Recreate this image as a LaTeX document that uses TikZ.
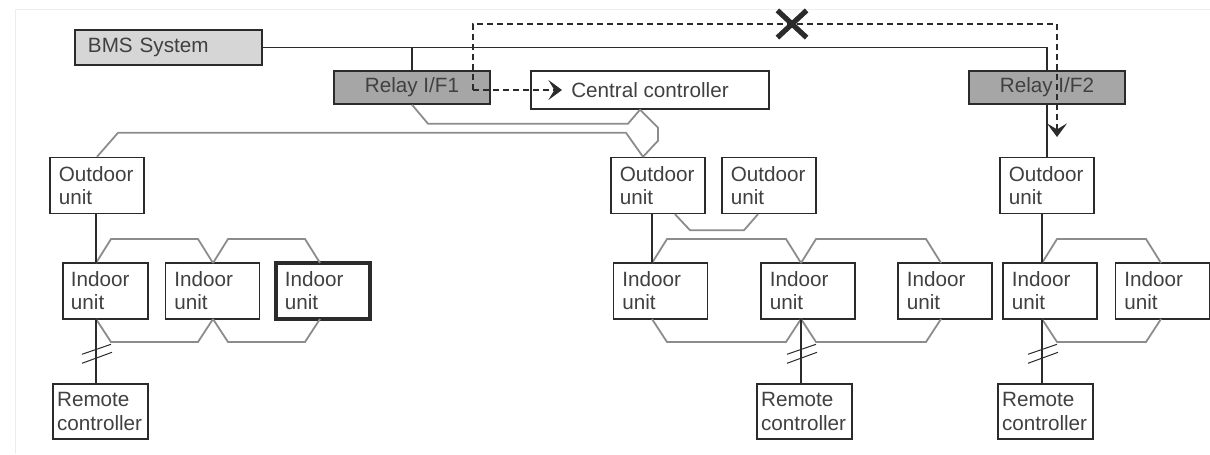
\documentclass[tikz,border=0pt]{standalone}
\usepackage{fontspec}
\setmainfont{Liberation Sans}
\usetikzlibrary{arrows.meta,calc,shapes.misc}
\definecolor{Ink}{HTML}{2B2B2B}
\definecolor{Wire}{HTML}{8C8C8C}
\definecolor{Panel}{HTML}{D6D6D6}
\definecolor{Relay}{HTML}{A6A6A6}
\newcommand\unitfont{\fontsize{14.7}{16.5}\selectfont}

\tikzset{
  box/.style={draw=Ink,line width=0.35mm,text=Ink!90,font=\unitfont},
  unit/.style={box,align=left,text width=1.91cm,inner xsep=0.22cm,minimum height=1.4cm},
  remote/.style={box,align=left,text width=2.17cm,inner xsep=0.1cm,minimum height=1.375cm},
  relay/.style={box,fill=Relay,minimum width=3.9cm,minimum height=0.825cm},
  link/.style={draw=Ink,line width=0.3mm},
  wire/.style={draw=Wire,line width=0.45mm},
  sig/.style={draw=Ink,line width=0.3mm,dash pattern=on 1.5mm off 1mm,
    -{Stealth[length=3.4mm,width=5mm,inset=1.5mm,line width=0.4mm]}}
}

\begin{document}
\begin{tikzpicture}[x=0.025cm,y=-0.025cm]
    \useasboundingbox (0,0) rectangle (1210,454);
    \draw[black!7] (15,454) |- (1210,9);

    % top level
    \node[box,fill=Panel,align=left,text width=4.025cm,inner xsep=0.325cm,minimum height=0.875cm]
      (bms) at (168.5,47.5) {BMS System};
    \node[relay] (relay1) at (412,87.5) {Relay I/F1};
    \node[box,minimum width=5.95cm,minimum height=0.95cm] (central) at (650,90) {Central controller};
    \node[relay] (relay2) at (1047,87.5) {Relay I/F2};

    % outdoor units
    \node[unit] (out1) at (97,185.5) {Outdoor\\unit};
    \node[unit] (out2) at (658,185.5) {Outdoor\\unit};
    \node[unit] (out3) at (769,185.5) {Outdoor\\unit};
    \node[unit] (out4) at (1047,185.5) {Outdoor\\unit};

    % indoor units
    \node[unit,text width=1.725cm,inner xsep=0.2cm] (in1) at (105.5,291) {Indoor\\unit};
    \node[unit] (in2) at (212.5,291) {Indoor\\unit};
    \node[unit,line width=0.95mm] (in3) at (323,291) {Indoor\\unit};
    \node[unit] (in4) at (660.5,291) {Indoor\\unit};
    \node[unit] (in5) at (808,291) {Indoor\\unit};
    \node[unit] (in6) at (945,291) {Indoor\\unit};
    \node[unit] (in7) at (1050,291) {Indoor\\unit};
    \node[unit] (in8) at (1162.5,291) {Indoor\\unit};

    % remote controllers
    \node[remote] (rc1) at (100.5,411.5) {Remote\\controller};
    \node[remote] (rc2) at (804.5,411.5) {Remote\\controller};
    \node[remote] (rc3) at (1045.5,411.5) {Remote\\controller};

    % BMS bus
    \draw[link] (bms.east) -| (relay2.north);
    \draw[link] (relay1.north |- bms.east) -- (relay1.north);
    \draw[link] (relay2.south) -- (out4.north);

    % grey transmission wiring
    \draw[wire] (relay1.south) -- ++(16,19) -- ($(central.south)+(-22,14)$) -- ($(central.south)+(-10,0)$);
    \draw[wire] ($(central.south)+(-10,0)$) -- ++(18,18) -- ++(0,13) -- ($(out2.north)+(-15,0)$);
    \draw[wire] (out1.north) -- ++(21,-24) -- ($(out2.north)+(-32,-24)$) -- ($(out2.north)+(-15,0)$);
    \draw[wire] ($(out2.south)+(17,0)$) -- ++(15,16) -- ($(out3.south)+(-25,16)$) -- ($(out3.south)+(-11,0)$);

    % taps on the indoor units
    \foreach \n/\x in {1/96,2/213,3/320,4/652,5/801,6/941,7/1042,8/1161} {
      \coordinate (t\n) at (\x,263);
      \coordinate (b\n) at (\x,319);
    }
    \foreach \a/\b in {1/2,2/3,4/5,5/6,7/8} {
      \draw[wire] (t\a) -- ++(15,-24) -- ($(t\b)+(-15,-24)$) -- (t\b);
      \draw[wire] (b\a) -- ++(15,23) -- ($(b\b)+(-15,23)$) -- (b\b);
    }
    \draw[link] (out1.south -| t1) -- (t1);
    \draw[link] (out2.south -| t4) -- (t4);
    \draw[link] (out4.south -| t7) -- (t7);

    % remote controller lines
    \foreach \n/\r in {1/rc1,5/rc2,7/rc3} {
      \draw[link] (b\n) -- (b\n |- \r.north);
      \draw[link,line width=0.25mm] ($(b\n |- \r.north)+(-14,-29)$) -- ++(29,-10);
      \draw[link,line width=0.25mm] ($(b\n |- \r.north)+(-14,-20)$) -- ++(30,-11);
    }

    % dashed signal path
    \coordinate (dstart) at (473,90);
    \coordinate (ctip) at (562,90);
    \coordinate (dend) at (1057,137);
    \draw[sig] (dstart) -- ++(0,-66) -| (dend);
    \draw[sig] (dstart) -- (ctip);
    \node[draw=Ink,cross out,line width=1.3mm,minimum width=0.6cm,minimum height=0.55cm,inner sep=0pt]
      (xmark) at (792,24) {};
  \end{tikzpicture}
\end{document}
